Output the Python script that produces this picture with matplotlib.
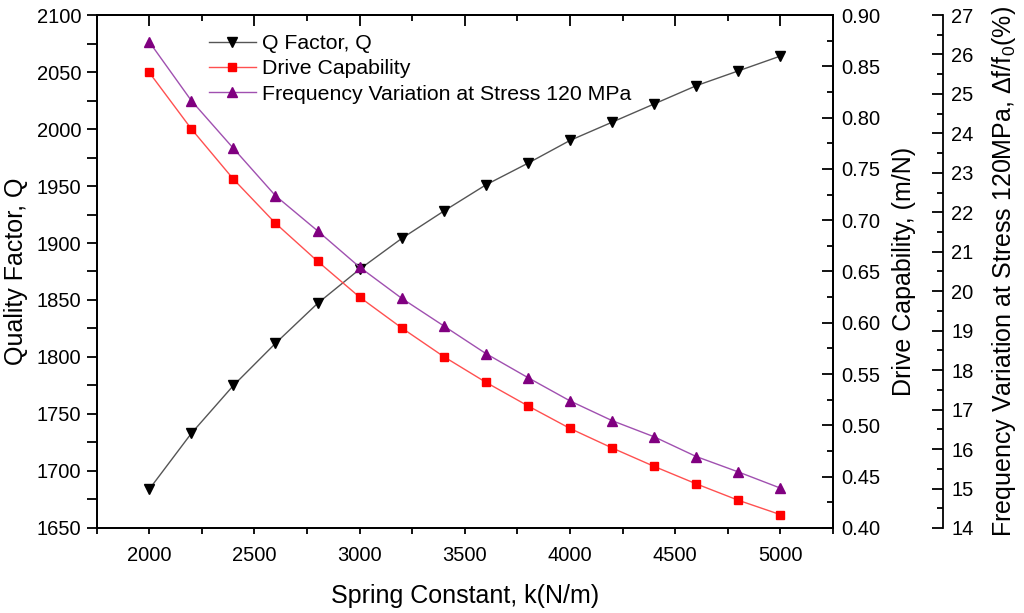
import matplotlib
matplotlib.use("Agg")
import matplotlib.pyplot as plt
from matplotlib.ticker import MultipleLocator

plt.rcParams['font.family'] = ['Liberation Sans', 'DejaVu Sans']
plt.rcParams['mathtext.fontset'] = 'custom'
plt.rcParams['mathtext.rm'] = 'Liberation Sans'
plt.rcParams['mathtext.it'] = 'Liberation Sans:italic'

# spring constant k (N/m)
spring_k = [2000, 2200, 2400, 2600, 2800, 3000, 3200, 3400,
            3600, 3800, 4000, 4200, 4400, 4600, 4800, 5000]
# quality factor Q
q_factor = [1684, 1733, 1775, 1812, 1847, 1877, 1904, 1928,
            1951, 1970, 1990, 2006, 2022, 2038, 2051, 2064]
# drive capability (m/N)
drive_cap = [0.844, 0.789, 0.740, 0.697, 0.660, 0.625, 0.595, 0.567,
             0.542, 0.519, 0.497, 0.478, 0.460, 0.443, 0.427, 0.413]
# frequency variation at 120 MPa (%)
freq_var = [26.32, 24.83, 23.62, 22.42, 21.53, 20.61, 19.82, 19.12,
            18.42, 17.81, 17.22, 16.72, 16.31, 15.81, 15.42, 15.01]

fig = plt.figure(figsize=(10.24, 6.13), dpi=100)
ax = fig.add_axes([0.0944, 0.1387, 0.7191, 0.8368])
ax2 = ax.twinx()
ax3 = ax.twinx()

l1, = ax.plot(spring_k, q_factor, color='#555555', lw=1, marker='v',
              markersize=7, markerfacecolor='black', markeredgecolor='black',
              label='Q Factor, Q')
l2, = ax2.plot(spring_k, drive_cap, color='#ff5050', lw=1, marker='s',
               markersize=5.5, markerfacecolor='#ff0000', markeredgecolor='#ff0000',
               label='Drive Capability')
l3, = ax3.plot(spring_k, freq_var, color='#a050b0', lw=1, marker='^',
               markersize=7, markerfacecolor='#800080', markeredgecolor='#800080',
               label='Frequency Variation at Stress 120 MPa')

ax.set_xlim(1750, 5250)
ax.set_ylim(1650, 2100)
ax2.set_ylim(0.40, 0.90)
ax3.set_ylim(14, 27)

ax.xaxis.set_major_locator(MultipleLocator(500))
ax.xaxis.set_minor_locator(MultipleLocator(250))
ax.yaxis.set_major_locator(MultipleLocator(50))
ax.yaxis.set_minor_locator(MultipleLocator(25))
ax2.yaxis.set_major_locator(MultipleLocator(0.05))
ax2.yaxis.set_minor_locator(MultipleLocator(0.025))
ax3.yaxis.set_major_locator(MultipleLocator(1))
ax3.yaxis.set_minor_locator(MultipleLocator(0.5))
ax2.yaxis.set_major_formatter(matplotlib.ticker.FormatStrFormatter('%.2f'))

ax.tick_params(axis='both', which='both', labelsize=14.5, width=1.3)
ax.tick_params(axis='y', which='both', direction='out', length=7.5, right=False)
ax.tick_params(axis='x', which='both', direction='out', length=4, top=False, pad=9)

# inward ticks on the top edge
top = ax.secondary_xaxis('top')
top.xaxis.set_major_locator(MultipleLocator(500))
top.xaxis.set_minor_locator(MultipleLocator(250))
top.tick_params(which='major', direction='in', length=8, width=1.3, labeltop=False)
top.tick_params(which='minor', direction='in', length=4.5, width=1.3)

for a in (ax2, ax3):
    a.tick_params(axis='y', which='major', direction='in', length=8, width=1.3,
                  labelsize=14.5, pad=6)
    a.tick_params(axis='y', which='minor', direction='in', length=4.5, width=1.3)

ax3.spines['right'].set_position(('axes', 1.1494))
ax3.spines['top'].set_visible(False)
ax3.spines['bottom'].set_visible(False)
ax3.spines['left'].set_visible(False)
for a in (ax, ax2, ax3):
    for s in a.spines.values():
        s.set_linewidth(1.3)
top.spines['top'].set_linewidth(1.3)

ax.set_xlabel('Spring Constant, k(N/m)', fontsize=18, labelpad=14)
ax.set_ylabel('Quality Factor, Q', fontsize=18, labelpad=6)
ax2.set_ylabel('Drive Capability, (m/N)', fontsize=18, labelpad=8)
ax3.set_ylabel(r'Frequency Variation at Stress 120MPa, $\Delta$f/f$_0$(%)',
               fontsize=18, labelpad=12)

fig.legend(handles=[l1, l2, l3], loc='upper left',
           bbox_to_anchor=(209 / 1024, 1 - 34 / 613), bbox_transform=fig.transFigure,
           frameon=False, fontsize=15.3, handlelength=2.2, handletextpad=0.28,
           labelspacing=0.3, borderpad=0, borderaxespad=0)

fig.savefig('out.png', dpi=100)
